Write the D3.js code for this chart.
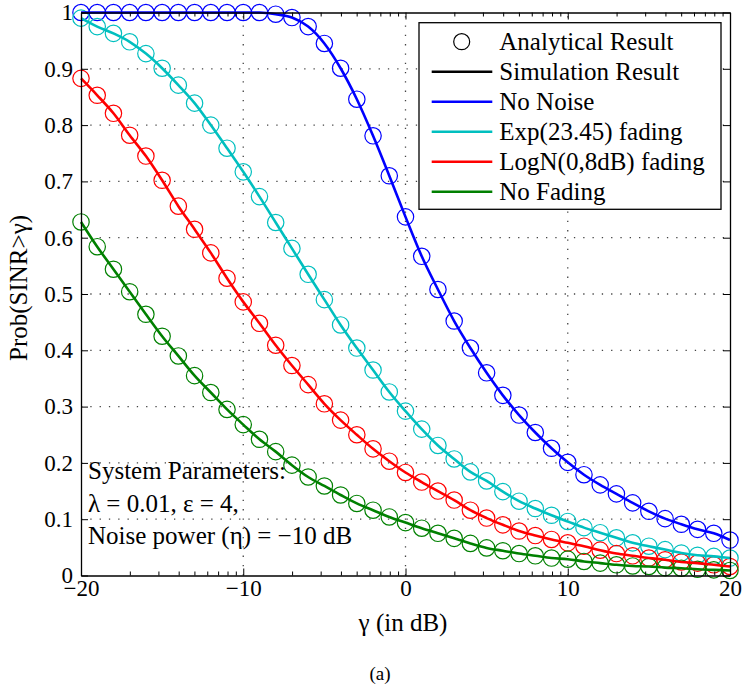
<!DOCTYPE html>
<html>
<head>
<meta charset="utf-8">
<script src="https://cdn.jsdelivr.net/npm/d3@7"></script>
<style>
  body { margin: 0; background: #fff; }
  svg { display: block; }
  svg text { font-family: "Liberation Serif", "DejaVu Serif", serif; fill: #000; }
</style>
</head>
<body>
<div id="chart"></div>
<script>
// gamma in dB, one point per dB
const gammaDb = [-20, -19, -18, -17, -16, -15, -14, -13, -12, -11, -10, -9, -8, -7, -6, -5, -4, -3, -2, -1,
  0, 1, 2, 3, 4, 5, 6, 7, 8, 9, 10, 11, 12, 13, 14, 15, 16, 17, 18, 19, 20];

const noNoise = [1, 1, 1, 1, 1, 1, 1, 1, 1, 1, 1, 1, 0.997, 0.991, 0.975, 0.945, 0.901, 0.846, 0.781, 0.71,
  0.637, 0.567, 0.508, 0.452, 0.404, 0.36, 0.32, 0.285, 0.254, 0.226, 0.201, 0.179, 0.161, 0.145, 0.129, 0.114,
  0.101, 0.091, 0.082, 0.075, 0.063];

const expFading = [0.99, 0.975, 0.963, 0.948, 0.927, 0.901, 0.871, 0.839, 0.8, 0.759, 0.717, 0.673, 0.627, 0.581,
  0.535, 0.49, 0.445, 0.404, 0.365, 0.326, 0.292, 0.26, 0.231, 0.207, 0.184, 0.168, 0.149, 0.132, 0.119, 0.107,
  0.096, 0.085, 0.076, 0.067, 0.058, 0.052, 0.046, 0.04, 0.036, 0.034, 0.031];

const logNFading = [0.883, 0.853, 0.821, 0.782, 0.745, 0.702, 0.656, 0.615, 0.573, 0.528, 0.486, 0.448, 0.409, 0.373,
  0.339, 0.305, 0.276, 0.25, 0.225, 0.203, 0.183, 0.166, 0.15, 0.134, 0.116, 0.102, 0.09, 0.079, 0.071, 0.064,
  0.058, 0.052, 0.045, 0.039, 0.035, 0.031, 0.028, 0.024, 0.022, 0.019, 0.016];

const noFading = [0.628, 0.584, 0.544, 0.504, 0.464, 0.425, 0.39, 0.355, 0.325, 0.295, 0.268, 0.242, 0.22, 0.196,
  0.175, 0.159, 0.143, 0.128, 0.116, 0.104, 0.094, 0.084, 0.075, 0.066, 0.057, 0.049, 0.044, 0.039, 0.035, 0.031,
  0.029, 0.025, 0.022, 0.019, 0.017, 0.016, 0.014, 0.013, 0.011, 0.01, 0.009];

const seriesNames = ["No Noise", "Exp(23.45) fading", "LogN(0,8dB) fading", "No Fading"];
const seriesColors = ["#0000ff", "#00bfbf", "#ff0000", "#008000"];
const seriesValues = [noNoise, expFading, logNFading, noFading];

const xTicks = [-20, -10, 0, 10, 20];
const xTickLabels = ["\u221220", "\u221210", "0", "10", "20"];
const yTicks = [0, 0.1, 0.2, 0.3, 0.4, 0.5, 0.6, 0.7, 0.8, 0.9, 1];
const yTickLabels = ["0", "0.1", "0.2", "0.3", "0.4", "0.5", "0.6", "0.7", "0.8", "0.9", "1"];
const xGrid = [-10, 0, 10];
const yGrid = [0.1, 0.2, 0.3, 0.4, 0.5, 0.6, 0.7, 0.8, 0.9];

const paramLines = ["System Parameters:", "\u03bb = 0.01, \u03b5 = 4,", "Noise power (\u03b7) = \u221210 dB"];

const width = 743, height = 693;
const plotLeft = 81, plotRight = 730, plotTop = 12.5, plotBottom = 575.5;

const svg = d3.select("#chart").append("svg")
  .attr("width", width)
  .attr("height", height);

const x = d3.scaleLinear().domain([-20, 20]).range([plotLeft, plotRight]);
const y = d3.scaleLinear().domain([0, 1]).range([plotBottom, plotTop]);

// dotted grid
const grid = svg.append("g").attr("stroke", "#444").attr("stroke-width", 1.3).attr("stroke-dasharray", "1.3,8");
grid.selectAll(".gx").data(xGrid).join("line")
  .attr("x1", d => x(d)).attr("x2", d => x(d)).attr("y1", plotBottom).attr("y2", plotTop);
grid.selectAll(".gy").data(yGrid).join("line")
  .attr("x1", plotLeft).attr("x2", plotRight).attr("y1", d => y(d)).attr("y2", d => y(d));

// MATLAB-style minor ticks (log spaced inside each decade)
const minorTicks = [];
for (let i = 0; i < xTicks.length - 1; i++) {
  for (let k = 2; k <= 9; k++) minorTicks.push(xTicks[i] + 10 * Math.log10(k));
}

// markers (analytical)
const pts = [];
seriesValues.forEach((vals, s) => {
  vals.forEach((v, i) => pts.push({ g: gammaDb[i], v: v, s: s }));
});
svg.append("g").selectAll("circle").data(pts).join("circle")
  .attr("cx", d => x(d.g))
  .attr("cy", d => y(d.v))
  .attr("r", 8.2)
  .attr("fill", "none")
  .attr("stroke", d => seriesColors[d.s])
  .attr("stroke-width", 1.2);

// lines (simulation)
const line = d3.line()
  .x((d, i) => x(gammaDb[i]))
  .y(d => y(d))
  .curve(d3.curveMonotoneX);
svg.append("g").selectAll("path").data(seriesValues).join("path")
  .attr("d", d => line(d))
  .attr("fill", "none")
  .attr("stroke", (d, i) => seriesColors[i])
  .attr("stroke-width", 2.6);

// axes
const axisBottom = d3.axisBottom(x).tickValues(xTicks)
  .tickFormat((d, i) => xTickLabels[i]).tickSize(-7).tickSizeOuter(0).tickPadding(4);
const axisTop = d3.axisTop(x).tickValues(xTicks).tickFormat("").tickSize(-7).tickSizeOuter(0);
const axisLeft = d3.axisLeft(y).tickValues(yTicks)
  .tickFormat((d, i) => yTickLabels[i]).tickSize(-7).tickSizeOuter(0).tickPadding(8);
const axisRight = d3.axisRight(y).tickValues(yTicks).tickFormat("").tickSize(-7).tickSizeOuter(0);

function styleAxis(g) {
  g.attr("font-family", null).attr("font-size", null);
  g.selectAll("path").attr("stroke", "#000").attr("stroke-width", 1.3);
  g.selectAll("line").attr("stroke", "#000").attr("stroke-width", 1);
  g.selectAll("text").style("font-size", "23px");
}

svg.append("g").attr("transform", `translate(0,${plotBottom})`).call(axisBottom).call(styleAxis);
svg.append("g").attr("transform", `translate(0,${plotTop})`).call(axisTop).call(styleAxis);
svg.append("g").attr("transform", `translate(${plotLeft},0)`).call(axisLeft).call(styleAxis);
svg.append("g").attr("transform", `translate(${plotRight},0)`).call(axisRight).call(styleAxis);

svg.append("g").attr("transform", `translate(0,${plotBottom})`)
  .call(d3.axisBottom(x).tickValues(minorTicks).tickFormat("").tickSize(-4).tickSizeOuter(0))
  .call(g => g.select(".domain").remove())
  .call(styleAxis);
svg.append("g").attr("transform", `translate(0,${plotTop})`)
  .call(d3.axisTop(x).tickValues(minorTicks).tickFormat("").tickSize(-4).tickSizeOuter(0))
  .call(g => g.select(".domain").remove())
  .call(styleAxis);

// parameter box text
svg.append("g").selectAll("text").data(paramLines).join("text")
  .attr("x", 88)
  .attr("y", (d, i) => 479 + i * 32.5)
  .style("font-size", "25px")
  .text(d => d);

// axis labels
svg.append("text")
  .attr("x", 403).attr("y", 631)
  .attr("text-anchor", "middle")
  .style("font-size", "25px")
  .text("\u03b3 (in dB)");

svg.append("text")
  .attr("transform", "translate(27,288) rotate(-90)")
  .attr("text-anchor", "middle")
  .style("font-size", "25px")
  .text("Prob(SINR>\u03b3)");

svg.append("text")
  .attr("x", 380).attr("y", 680)
  .attr("text-anchor", "middle")
  .style("font-size", "19px")
  .text("(a)");

// legend
const legend = svg.append("g");
legend.append("rect")
  .attr("x", 419).attr("y", 22.7)
  .attr("width", 302).attr("height", 186.6)
  .attr("fill", "#fff").attr("stroke", "#000").attr("stroke-width", 1.3);

const legendItems = [{ name: "Analytical Result", color: "#000", type: "marker" },
  { name: "Simulation Result", color: "#000", type: "line" }]
  .concat(seriesNames.map((n, i) => ({ name: n, color: seriesColors[i], type: "line" })));

const rows = legend.selectAll("g.row").data(legendItems).join("g")
  .attr("transform", (d, i) => `translate(0,${41.7 + i * 30})`);
rows.filter(d => d.type === "marker").append("circle")
  .attr("cx", 461.7).attr("cy", 0).attr("r", 8)
  .attr("fill", "none").attr("stroke", "#000").attr("stroke-width", 1.2);
rows.filter(d => d.type === "line").append("line")
  .attr("x1", 431.7).attr("x2", 492.3)
  .attr("stroke", d => d.color).attr("stroke-width", 2.4);
rows.append("text")
  .attr("x", 499.3).attr("y", 8.5)
  .style("font-size", "25px")
  .text(d => d.name);
</script>
</body>
</html>
